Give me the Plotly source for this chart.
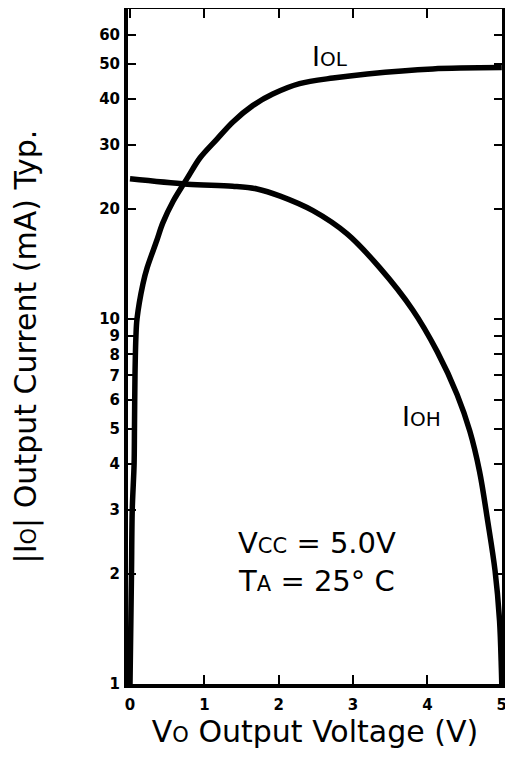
import plotly.graph_objects as go

# ---- data ----
iol_v = [0.0, 0.02, 0.03, 0.055, 0.06, 0.067, 0.08, 0.094, 0.175, 0.23, 0.36, 0.44, 0.58,
         0.77, 0.94, 1.17, 1.38, 1.65, 1.92, 2.28, 2.73, 3.19, 4.07, 5.0]
iol_i = [1.0, 2.0, 3.0, 4.0, 5.0, 7.0, 9.0, 10.0, 12.5, 13.8, 16.4, 18.3, 21.0,
         24.3, 27.6, 31.1, 34.6, 38.4, 41.3, 44.1, 45.7, 46.9, 48.4, 48.8]

ioh_v = [0.0, 0.77, 1.38, 1.71, 2.02, 2.46, 2.92, 3.36, 3.80, 4.13, 4.40, 4.57,
         4.70, 4.81, 4.91, 4.97, 4.995, 5.0]
ioh_i = [24.2, 23.4, 23.1, 22.7, 21.7, 19.8, 17.1, 13.8, 10.6, 8.15, 6.2, 4.93,
         3.83, 2.80, 2.04, 1.49, 1.09, 1.0]

x_ticks = [0, 1, 2, 3, 4, 5]
x_ticktext = [str(v) for v in x_ticks]
y_ticks = [1, 2, 3, 4, 5, 6, 7, 8, 9, 10, 20, 30, 40, 50, 60]
y_ticktext = [str(v) for v in y_ticks]

TITLE_FONT = "DejaVu Sans"
TICK_FONT = "DejaVu Sans"

fig = go.Figure()
fig.add_trace(go.Scatter(x=iol_v, y=iol_i, mode="lines",
                         line=dict(color="black", width=5.5, shape="spline", smoothing=0.9),
                         showlegend=False, hoverinfo="skip"))
fig.add_trace(go.Scatter(x=ioh_v, y=ioh_i, mode="lines",
                         line=dict(color="black", width=5.5, shape="spline", smoothing=1.0),
                         showlegend=False, hoverinfo="skip"))

axis_common = dict(
    ticks="inside", tickcolor="black", tickwidth=2,
    showline=True, linewidth=4, linecolor="black", mirror="ticks",
    showgrid=False, zeroline=False, automargin=False,
    tickfont=dict(family=TICK_FONT, size=15, color="black", weight="bold"),
)

# the page body adds an 8 px offset, so the figure is 8 px smaller than the window
fig.update_layout(
    template="simple_white",
    width=505, height=751,
    margin=dict(l=120, r=11, t=1, b=75, autoexpand=False),
    paper_bgcolor="white", plot_bgcolor="white",
    font=dict(family=TITLE_FONT, color="black"),
)
fig.update_xaxes(
    range=[-0.027, 5.003], tickvals=x_ticks, ticktext=x_ticktext,
    ticklen=9, ticklabelstandoff=4,
    title=dict(text="V<span style='font-size:21px'>O</span> Output Voltage (V)",
               font=dict(family=TITLE_FONT, size=30, color="black"), standoff=4),
    **axis_common,
)
fig.update_yaxes(
    type="log", range=[0, 1.849], tickvals=y_ticks, ticktext=y_ticktext,
    ticklen=8, ticklabelstandoff=1,
    title=dict(text="|I<span style='font-size:21px'>O</span>| Output Current (mA) Typ.",
               font=dict(family=TITLE_FONT, size=30, color="black"), standoff=59),
    **axis_common,
)

# annotations on a log axis take log10 of the value for y
fig.add_annotation(x=2.51, y=0.333, xref="x", yref="y",
                   text="V<span style='font-size:21px'>CC</span> = 5.0V<br>T<span style='font-size:21px'>A</span> = 25° C",
                   showarrow=False, font=dict(family=TITLE_FONT, size=29, color="black"),
                   align="center", yanchor="middle")
fig.add_annotation(x=2.69, y=1.72, xref="x", yref="y",
                   text="I<span style='font-size:20px'>OL</span>",
                   showarrow=False, font=dict(family=TITLE_FONT, size=27, color="black"))
fig.add_annotation(x=3.92, y=0.734, xref="x", yref="y",
                   text="I<span style='font-size:20px'>OH</span>",
                   showarrow=False, font=dict(family=TITLE_FONT, size=27, color="black"))

fig.write_html("out.html")
